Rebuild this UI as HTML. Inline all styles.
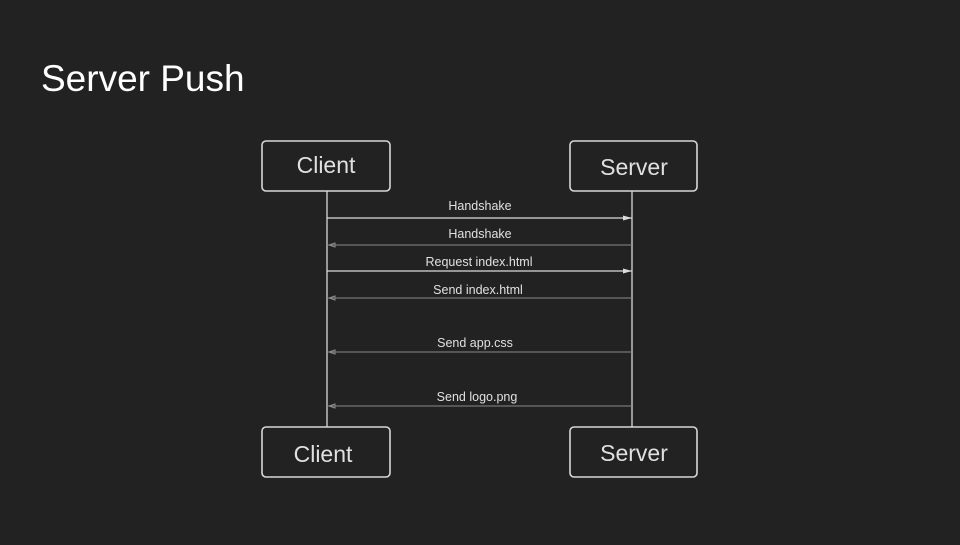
<!DOCTYPE html>
<html><head><style>
body{margin:0;width:960px;height:540px;background:#222222;overflow:hidden;font-family:"Liberation Sans",sans-serif}
</style></head><body>
<svg width="960" height="540" xmlns="http://www.w3.org/2000/svg" font-family="Liberation Sans, sans-serif">
<rect width="960" height="540" fill="#222222"/>
<text x="41" y="91" font-size="37" fill="#ffffff">Server Push</text>
<line x1="327" y1="191" x2="327" y2="427" stroke="#d8d8d8" stroke-width="1.3"/>
<line x1="632" y1="191" x2="632" y2="427" stroke="#d8d8d8" stroke-width="1.3"/>
<g fill="#222" stroke="#d8d8d8" stroke-width="1.6">
<rect x="262" y="141" width="128" height="50" rx="4"/>
<rect x="570" y="141" width="127" height="50" rx="4"/>
<rect x="262" y="427" width="128" height="50" rx="4"/>
<rect x="570" y="427" width="127" height="50" rx="4"/>
</g>
<g fill="#e0e0e0" font-size="23" text-anchor="middle">
<text x="326" y="173">Client</text>
<text x="634" y="175">Server</text>
<text x="323" y="462">Client</text>
<text x="634" y="461">Server</text>
</g>
<g stroke="#dcdcdc" stroke-width="1.3">
<line x1="327" y1="218" x2="632" y2="218"/>
<line x1="327" y1="271" x2="632" y2="271"/>
</g>
<g fill="#dcdcdc">
<polygon points="632,218 623,215.5 623,220.5"/>
<polygon points="632,271 623,268.5 623,273.5"/>
</g>
<g stroke="#8a8a8a" stroke-width="1">
<line x1="327" y1="245" x2="632" y2="245"/>
<line x1="327" y1="298" x2="632" y2="298"/>
<line x1="327" y1="352" x2="632" y2="352"/>
<line x1="327" y1="406" x2="632" y2="406"/>
</g>
<g fill="none" stroke="#8a8a8a" stroke-width="1">
<polygon points="329,245 335,243 335,247"/>
<polygon points="329,298 335,296 335,300"/>
<polygon points="329,352 335,350 335,354"/>
<polygon points="329,406 335,404 335,408"/>
</g>
<g fill="#e0e0e0" font-size="12.5" text-anchor="middle">
<text x="480" y="210">Handshake</text>
<text x="480" y="238">Handshake</text>
<text x="479" y="266">Request index.html</text>
<text x="478" y="294">Send index.html</text>
<text x="475" y="347">Send app.css</text>
<text x="477" y="401">Send logo.png</text>
</g>
</svg>
</body></html>
